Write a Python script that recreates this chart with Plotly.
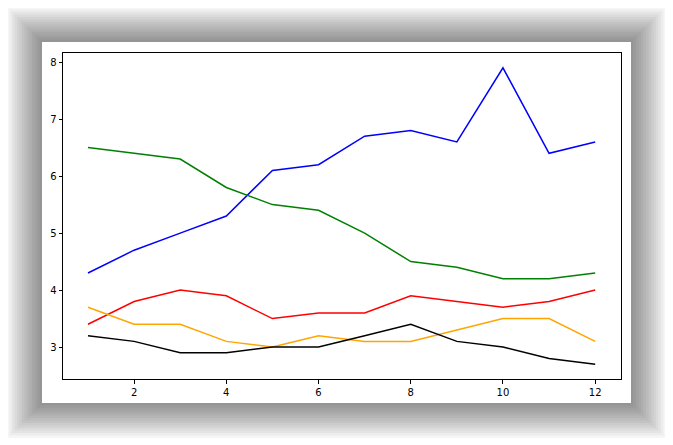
import plotly.graph_objects as go

months = list(range(1, 13))
blue = [4.3, 4.7, 5.0, 5.3, 6.1, 6.2, 6.7, 6.8, 6.6, 7.9, 6.4, 6.6]
green = [6.5, 6.4, 6.3, 5.8, 5.5, 5.4, 5.0, 4.5, 4.4, 4.2, 4.2, 4.3]
red = [3.4, 3.8, 4.0, 3.9, 3.5, 3.6, 3.6, 3.9, 3.8, 3.7, 3.8, 4.0]
orange = [3.7, 3.4, 3.4, 3.1, 3.0, 3.2, 3.1, 3.1, 3.3, 3.5, 3.5, 3.1]
black = [3.2, 3.1, 2.9, 2.9, 3.0, 3.0, 3.2, 3.4, 3.1, 3.0, 2.8, 2.7]

series = [(blue, "blue"), (green, "green"), (red, "red"), (orange, "orange"), (black, "black")]

fig = go.Figure()
for vals, col in series:
    fig.add_trace(go.Scatter(x=months, y=vals, mode="lines", line=dict(color=col, width=1.5), showlegend=False))

OFF = 8  # browser body margin
L, R, T, B = 63 - OFF, 621 - OFF, 53 - OFF, 379 - OFF
W, H = R - L, B - T
def px(x): return (x - OFF - L) / W
def py(y): return (B - (y - OFF)) / H

shapes = []
cx0, cx1, cy0, cy1 = 42, 631, 42, 403
n = 14
for i in range(n, 0, -1):
    d = i * 2.5
    shapes.append(dict(type="rect", xref="paper", yref="paper", layer="below",
                       x0=px(cx0 - d), x1=px(cx1 + d), y0=py(cy1 + d), y1=py(cy0 - d),
                       line=dict(width=0), fillcolor="rgba(0,0,0,0.035)"))
shapes.append(dict(type="rect", xref="paper", yref="paper", layer="below",
                   x0=px(cx0), x1=px(cx1), y0=py(cy1), y1=py(cy0),
                   line=dict(width=0), fillcolor="white"))

axis = dict(showgrid=False, zeroline=False, showline=True, linecolor="black", linewidth=1,
            mirror=True, ticks="outside", ticklen=3.5, tickcolor="black",
            tickfont=dict(family="DejaVu Sans", size=10, color="black"))
fig.update_layout(
    width=673, height=445, margin=dict(l=L, r=673 - R, t=T, b=445 - B),
    paper_bgcolor="white", plot_bgcolor="rgba(0,0,0,0)", shapes=shapes,
    xaxis=dict(range=[0.458, 12.56], tickvals=[2, 4, 6, 8, 10, 12], **axis),
    yaxis=dict(range=[2.44, 8.16], tickvals=[3, 4, 5, 6, 7, 8], **axis),
)
fig.write_html("out.html")
